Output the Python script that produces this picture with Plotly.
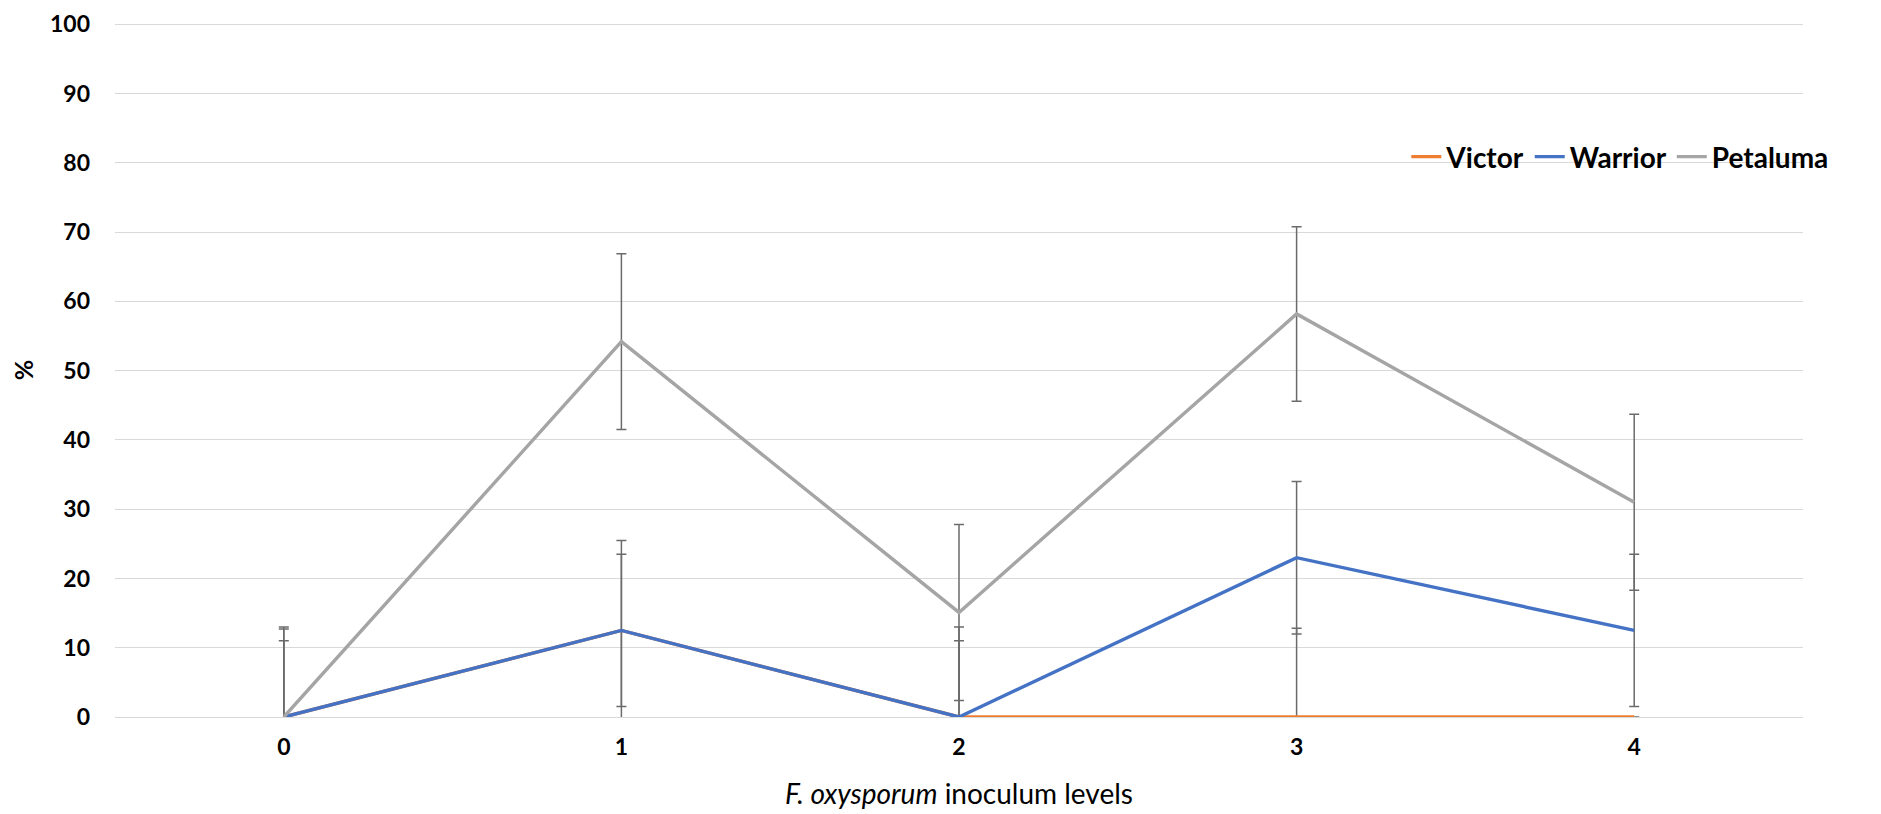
import plotly.graph_objects as go

levels = ["0", "1", "2", "3", "4"]
victor = [0, 12.5, 0, 0, 0]
victor_err = [13.0, 13.0, 13.0, 12.8, 0]
warrior = [0, 12.5, 0, 23.0, 12.5]
warrior_err = [11.0, 11.0, 11.0, 11.0, 11.0]
petaluma = [0, 54.2, 15.1, 58.2, 31.0]
petaluma_err = [12.7, 12.7, 12.7, 12.6, 12.7]

series = [
    ("Victor", victor, victor_err, "#ED7D31"),
    ("Warrior", warrior, warrior_err, "#4472C4"),
    ("Petaluma", petaluma, petaluma_err, "#A5A5A5"),
]

fig = go.Figure()
for name, vals, errs, color in series:
    fig.add_trace(go.Scatter(
        x=levels, y=vals, name=name, mode="lines",
        line=dict(color=color, width=3.4),
        error_y=dict(type="data", array=errs, symmetric=True,
                     color="#6B6B6B", thickness=1.5, width=5),
    ))

fig.update_layout(
    width=1873, height=806,
    margin=dict(l=107, r=78, t=15, b=97, autoexpand=False),
    paper_bgcolor="white", plot_bgcolor="white",
    font=dict(family="Lato", color="black"),
    showlegend=True,
    legend=dict(orientation="h", x=0.765, y=0.807, xanchor="left", yanchor="middle",
                font=dict(size=28, family="Lato", weight="bold"),
                bgcolor="rgba(0,0,0,0)", itemwidth=30, tracegroupgap=0),
    xaxis=dict(
        type="category", range=[-0.5, 4.5], automargin=False,
        showgrid=False, showline=False, zeroline=False,
        ticks="", tickfont=dict(size=23, weight="bold"),
        ticklabelstandoff=14,
        title=dict(text="<i>F. oxysporum</i> inoculum levels",
                   font=dict(size=28), standoff=25),
    ),
    yaxis=dict(
        range=[0, 100.2], tickvals=[0, 10, 20, 30, 40, 50, 60, 70, 80, 90, 100],
        automargin=False,
        showgrid=True, gridcolor="#D9D9D9", gridwidth=1,
        zeroline=True, zerolinecolor="#D9D9D9", zerolinewidth=1,
        showline=False, ticks="",
        tickfont=dict(size=23, weight="bold"),
        ticklabelstandoff=24, ticklabeloverflow="allow",
        title=dict(text="%", font=dict(size=25, weight="bold"), standoff=16),
    ),
)

fig.write_html("out.html")
